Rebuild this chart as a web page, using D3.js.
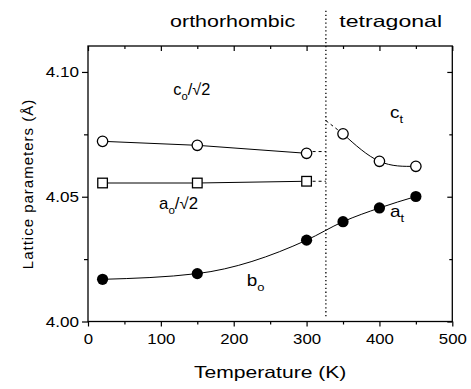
<!DOCTYPE html>
<html>
<head>
<script src="https://cdn.jsdelivr.net/npm/d3@7"></script>
<style>
  body { margin: 0; background: #fff; }
  text { font-family: "Liberation Sans", Arial, Helvetica, sans-serif; fill: #000; }
</style>
</head>
<body>
<svg id="chart" width="471" height="389"></svg>
<script>
// temperatures (K) and lattice parameters (Å)
const tOrtho = [20, 150, 300]
const tTetra = [350, 400, 450]
const coVals = [4.0722, 4.0706, 4.0674]   // c_o/√2, open circles
const aoVals = [4.0555, 4.0555, 4.0562]   // a_o/√2, open squares
const ctVals = [4.0752, 4.0642, 4.0622]   // c_t, open circles
const boVals = [4.0169, 4.0192, 4.0326]   // b_o, filled circles
const atVals = [4.0400, 4.0455, 4.0501]   // a_t, filled circles
const transitionT = 326.5
// dashed extrapolations up to the transition line
const coDash = [[300, 4.0681], [326.5, 4.0681]]
const aoDash = [[300, 4.0562], [326.5, 4.0562]]
const ctDash = [[326.5, 4.0805], [350, 4.0752]]

const xTicks = [0, 100, 200, 300, 400, 500]
const xMinor = [50, 150, 250, 350, 450]
const yTicks = [4.00, 4.05, 4.10]
const yMinor = [4.025, 4.075]

const svg = d3.select("#chart")
const x = d3.scaleLinear().domain([0, 500]).range([88, 452.3])
const y = d3.scaleLinear().domain([4.0, 4.1104]).range([321.5, 46])

const line = d3.line().x(d => x(d[0])).y(d => y(d[1]))

function label(g, tx, ty, sx) {
    return g.append("text").attr("transform", `translate(${tx},${ty}) scale(${sx},1)`)
}

// frame
svg.append("rect")
    .attr("x", x(0)).attr("y", y.range()[1])
    .attr("width", x(500) - x(0)).attr("height", y(4.0) - y.range()[1])
    .attr("fill", "none").attr("stroke", "#000").attr("stroke-width", 1.3)

function styleAxis(g) {
    g.select(".domain").remove()
    g.selectAll("line").attr("stroke", "#000").attr("stroke-width", 1.2)
}

// bottom axis
svg.append("g").attr("transform", `translate(0,${y(4.0)})`)
    .call(d3.axisBottom(x).tickValues(xTicks).tickSize(5).tickFormat(d3.format("d")))
    .call(styleAxis)
    .call(g => g.selectAll("text").attr("font-size", 15).attr("y", 0).attr("dy", null)
        .attr("transform", "translate(0,22) scale(1.12,1)"))
svg.append("g").attr("transform", `translate(0,${y(4.0)})`)
    .call(d3.axisBottom(x).tickValues(xMinor).tickSize(3).tickFormat(""))
    .call(styleAxis)
// top axis (inward)
svg.append("g").attr("transform", `translate(0,${y.range()[1]})`)
    .call(d3.axisTop(x).tickValues(xTicks).tickSize(-5).tickFormat(""))
    .call(styleAxis)
svg.append("g").attr("transform", `translate(0,${y.range()[1]})`)
    .call(d3.axisTop(x).tickValues(xMinor).tickSize(-3).tickFormat(""))
    .call(styleAxis)
// left axis
svg.append("g").attr("transform", `translate(${x(0)},0)`)
    .call(d3.axisLeft(y).tickValues(yTicks).tickSize(6).tickFormat(d3.format(".2f")))
    .call(styleAxis)
    .call(g => g.selectAll("text").attr("font-size", 15).attr("x", 0).attr("dy", "0.32em")
        .attr("transform", "translate(-9,0) scale(1.14,1)"))
svg.append("g").attr("transform", `translate(${x(0)},0)`)
    .call(d3.axisLeft(y).tickValues(yMinor).tickSize(4).tickFormat(""))
    .call(styleAxis)
// right axis (inward)
svg.append("g").attr("transform", `translate(${x(500)},0)`)
    .call(d3.axisRight(y).tickValues(yTicks).tickSize(-5).tickFormat(""))
    .call(styleAxis)
svg.append("g").attr("transform", `translate(${x(500)},0)`)
    .call(d3.axisRight(y).tickValues(yMinor).tickSize(-3).tickFormat(""))
    .call(styleAxis)

// transition line
svg.append("line")
    .attr("x1", x(transitionT)).attr("x2", x(transitionT))
    .attr("y1", y(4.1245)).attr("y2", y(4.0018))
    .attr("stroke", "#000").attr("stroke-width", 1.3).attr("stroke-dasharray", "1.3,2.6")

// dashed extrapolations
;[coDash, aoDash, ctDash].forEach(d => {
    svg.append("path").attr("d", line(d))
        .attr("fill", "none").attr("stroke", "#000").attr("stroke-width", 1).attr("stroke-dasharray", "3,3")
})

// fitted lines
const coPts = tOrtho.map((t, i) => [t, coVals[i]])
const aoPts = tOrtho.map((t, i) => [t, aoVals[i]])
const ctPts = tTetra.map((t, i) => [t, ctVals[i]])
const bPts = tOrtho.map((t, i) => [t, boVals[i]]).concat(tTetra.map((t, i) => [t, atVals[i]]))

svg.append("path").attr("d", line(coPts)).attr("fill", "none").attr("stroke", "#000").attr("stroke-width", 1)
svg.append("path").attr("d", line(aoPts)).attr("fill", "none").attr("stroke", "#000").attr("stroke-width", 1)
svg.append("path").attr("d", line.curve(d3.curveNatural)(ctPts)).attr("fill", "none").attr("stroke", "#000").attr("stroke-width", 1)
svg.append("path").attr("d", line.curve(d3.curveMonotoneX)(bPts)).attr("fill", "none").attr("stroke", "#000").attr("stroke-width", 1)

// markers
svg.selectAll(".open").data(coPts.concat(ctPts)).enter().append("circle")
    .attr("cx", d => x(d[0])).attr("cy", d => y(d[1])).attr("r", 5.2)
    .attr("fill", "#fff").attr("stroke", "#000").attr("stroke-width", 1.3)
svg.selectAll(".sq").data(aoPts).enter().append("rect")
    .attr("x", d => x(d[0]) - 4.8).attr("y", d => y(d[1]) - 4.8).attr("width", 9.6).attr("height", 9.6)
    .attr("fill", "#fff").attr("stroke", "#000").attr("stroke-width", 1.3)
svg.selectAll(".filled").data(bPts).enter().append("circle")
    .attr("cx", d => x(d[0])).attr("cy", d => y(d[1])).attr("r", 5.6)
    .attr("fill", "#000")

// series labels
function seriesLabel(t, v, main, sub, tail, sx) {
    const txt = label(svg, x(t), y(v), sx).attr("font-size", 16)
    txt.append("tspan").text(main)
    txt.append("tspan").attr("font-size", 11).attr("dy", 5).text(sub)
    if (tail) txt.append("tspan").attr("dy", -5).text(tail)
}
seriesLabel(117, 4.0908, "c", "o", "/\u221a2", 1.02)
seriesLabel(97.5, 4.0451, "a", "o", "/\u221a2", 1.05)
seriesLabel(414.5, 4.0816, "c", "t", null, 1.18)
seriesLabel(414.5, 4.0419, "a", "t", null, 1.18)
seriesLabel(218, 4.0142, "b", "o", null, 1.18)

// phase labels
label(svg, x(198.5), y(4.118), 1.3).attr("font-size", 16.5).attr("text-anchor", "middle").text("orthorhombic")
label(svg, x(345), y(4.118), 1.4).attr("font-size", 16.5).text("tetragonal")

// axis titles
label(svg, x(250), 378, 1.28).attr("font-size", 16.5).attr("text-anchor", "middle").text("Temperature (K)")
svg.append("text").attr("transform", "translate(33,184) rotate(-90)")
    .attr("font-size", 15).attr("text-anchor", "middle").attr("letter-spacing", 1)
    .text("Lattice parameters (\u00c5)")
</script>
</body>
</html>
